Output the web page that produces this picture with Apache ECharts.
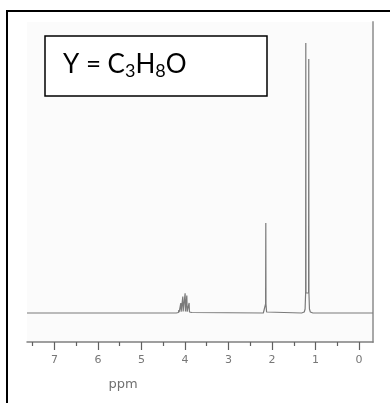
<!DOCTYPE html>
<html>
<head>
<meta charset="utf-8">
<script src="https://cdn.jsdelivr.net/npm/echarts@6/dist/echarts.min.js"></script>
<style>
html,body{margin:0;padding:0;background:#fff;}
#c{width:390px;height:403px;}
</style>
</head>
<body>
<div id="c"></div>
<script>
// Chemical shift (ppm) of each point of the spectrum trace
var shiftPpm = [
  7.63, 4.20,
  4.150, 4.142, 4.134, 4.104, 4.096, 4.088, 4.058, 4.050, 4.042, 4.005, 3.997, 3.989,
  3.966, 3.958, 3.950, 3.913, 3.905, 3.897, 3.861, 3.853, 3.845, 3.82,
  2.20, 2.16, 2.148, 2.143, 2.139, 2.125, 2.09,
  1.32, 1.26, 1.24, 1.228, 1.224, 1.220, 1.160, 1.156, 1.152, 1.14, 1.12, 1.06,
  -0.32
];
// Intensity (arbitrary units) at each shift
var intensity = [
  0, 0,
  0.5, 3, 0.8, 1, 10, 1.2, 1.3, 16.5, 1.5, 1.5, 19.7, 1.5,
  1.5, 17.5, 1.3, 1.2, 10, 1, 0.8, 3, 0.5, 0,
  0, 1, 9, 90, 9, 1, 0,
  0, 1, 4, 20, 270, 20, 20, 254, 20, 4, 1, 0,
  0
];
var majorTicks = [0, 1, 2, 3, 4, 5, 6, 7];
var minorTicks = [0.5, 1.5, 2.5, 3.5, 4.5, 5.5, 6.5, 7.5];
var axisName = 'ppm';
var formulaMain = ['Y = C', 'H', 'O'];
var formulaSub = ['3', '8'];

var spectrum = shiftPpm.map(function (p, i) { return [p, intensity[i]]; });

var chart = echarts.init(document.getElementById('c'), null, {renderer: 'canvas'});
chart.setOption({
  animation: false,
  backgroundColor: '#ffffff',
  grid: {left: 27, right: 17, top: 22, bottom: 61, show: true, backgroundColor: '#fbfbfb', borderWidth: 0},
  xAxis: [{
    type: 'value', inverse: true, min: -0.32, max: 7.63, position: 'bottom',
    axisLine: {show: true, onZero: false, lineStyle: {color: '#808080', width: 1.5}},
    axisTick: {show: true, customValues: majorTicks, length: 8, lineStyle: {color: '#606060', width: 1.2}},
    axisLabel: {show: true, customValues: majorTicks, margin: 13, color: '#777777', fontSize: 11, fontFamily: 'DejaVu Sans'},
    splitLine: {show: false}
  }, {
    type: 'value', inverse: true, min: -0.32, max: 7.63, position: 'bottom',
    axisLine: {show: false, onZero: false},
    axisTick: {show: true, customValues: minorTicks, length: 4, lineStyle: {color: '#606060', width: 1.2}},
    axisLabel: {show: false},
    splitLine: {show: false}
  }],
  yAxis: {
    type: 'value', min: -29, max: 291, position: 'right',
    axisLine: {show: true, onZero: false, lineStyle: {color: '#a8a8a8', width: 2}},
    axisTick: {show: false}, axisLabel: {show: false}, splitLine: {show: false}
  },
  series: [{
    type: 'line', xAxisIndex: 0, data: spectrum, showSymbol: false, symbol: 'none',
    lineStyle: {color: '#7a7a7a', width: 1.2}, silent: true
  }],
  graphic: [
    {type: 'polyline', shape: {points: [[7, 403], [7, 11], [390, 11]]}, style: {stroke: '#000', lineWidth: 2, fill: null}},
    {type: 'rect', shape: {x: 45, y: 36, width: 222, height: 60}, style: {stroke: '#000', lineWidth: 1.5, fill: '#fff'}},
    {type: 'text', x: 63, y: 50, style: {
      text: '{a|' + formulaMain[0] + '}{s|' + formulaSub[0] + '}{a|' + formulaMain[1] + '}{s|' + formulaSub[1] + '}{a|' + formulaMain[2] + '}',
      fill: '#000',
      rich: {
        a: {fontFamily: 'Lato', fontSize: 26, lineHeight: 30, verticalAlign: 'middle', fill: '#000'},
        s: {fontFamily: 'Lato', fontSize: 18, lineHeight: 8, verticalAlign: 'bottom', fill: '#000'}
      }
    }},
    {type: 'text', x: 123, y: 385, style: {text: axisName, fill: '#707070', font: '13px "DejaVu Sans"', textAlign: 'center', textVerticalAlign: 'middle'}}
  ]
});
</script>
</body>
</html>
